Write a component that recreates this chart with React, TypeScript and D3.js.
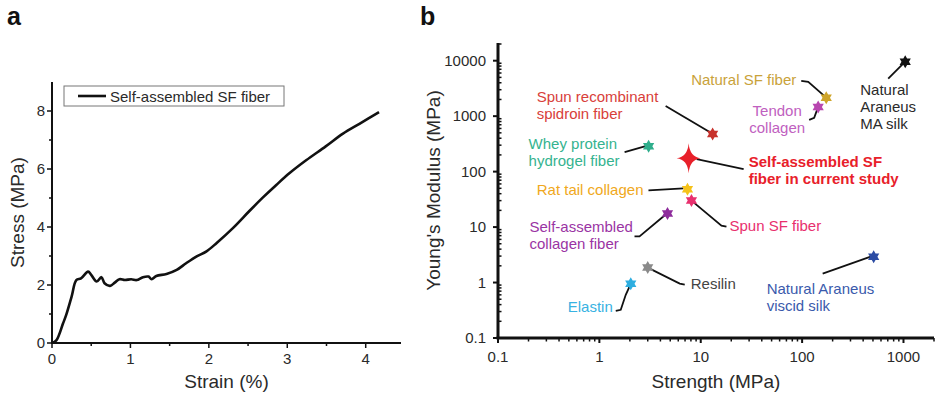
import React from 'react';
import * as d3 from 'd3';

// panel a: tensile curve
const strain = [0, 0.055, 0.14, 0.18, 0.25, 0.31, 0.37, 0.46, 0.5, 0.57, 0.63, 0.67, 0.74, 0.8, 0.86, 0.93, 1.01, 1.08, 1.16, 1.23, 1.27, 1.33, 1.46, 1.59, 1.71, 1.84, 1.97, 2.1, 2.31, 2.52, 2.69, 2.86, 3.03, 3.24, 3.49, 3.71, 3.92, 4.17];
const stress = [0, 0.09, 0.67, 0.96, 1.6, 2.17, 2.23, 2.46, 2.35, 2.12, 2.27, 2.06, 1.97, 2.08, 2.2, 2.17, 2.2, 2.17, 2.27, 2.29, 2.2, 2.31, 2.38, 2.52, 2.75, 2.98, 3.16, 3.45, 3.97, 4.56, 5.02, 5.45, 5.86, 6.3, 6.78, 7.22, 7.56, 7.96];
const strainTicks = [0, 1, 2, 3, 4];
const stressTicks = [0, 2, 4, 6, 8];

// panel b: Ashby-style comparison
const materials = ['Natural Araneus MA silk', 'Natural SF fiber', 'Tendon collagen', 'Spun recombinant spidroin fiber', 'Whey protein hydrogel fiber', 'Self-assembled SF fiber in current study', 'Rat tail collagen', 'Spun SF fiber', 'Self-assembled collagen fiber', 'Resilin', 'Elastin', 'Natural Araneus viscid silk'];
const strengthMPa = [1040, 173, 144, 13.1, 3.06, 7.6, 7.4, 8.1, 4.7, 3.0, 2.04, 508];
const modulusMPa = [9600, 2140, 1470, 476, 288, 175, 48, 30, 17.6, 1.86, 0.95, 2.93];
const labelLines = [
  ['Natural', 'Araneus', 'MA silk'],
  ['Natural SF fiber'],
  ['Tendon', 'collagen'],
  ['Spun recombinant', 'spidroin fiber'],
  ['Whey protein', 'hydrogel fiber'],
  ['Self-assembled SF', 'fiber in current study'],
  ['Rat tail collagen'],
  ['Spun SF fiber'],
  ['Self-assembled', 'collagen fiber'],
  ['Resilin'],
  ['Elastin'],
  ['Natural Araneus', 'viscid silk'],
];
const logTicks = [0.1, 1, 10, 100, 1000, 10000];

const starColors = ['#111111', '#cfa52a', '#b846b0', '#c8322c', '#2fae8c', '#e8202a', '#f5c21a', '#e8306e', '#8e2c9c', '#8a8a8a', '#2eaee0', '#2c4ca4'];
const textColors = ['#2a2a2a', '#c9a23a', '#c060c0', '#d8403a', '#35b38f', '#e8202a', '#f0a820', '#e8306e', '#9a34a4', '#444444', '#38b2e2', '#3a5aac'];

// label placement relative to the star, in px
const labelLayout = [
  { dx: -45, dy: 33, anchor: 'start', leader: [[-17, 17], [0, 0]] },
  { dx: -30, dy: -13, anchor: 'end', leader: [[-25, -17], [-18, -16], [-2, -2]] },
  { dx: -41, dy: 9, anchor: 'middle', leader: [[-9, 13], [-4, 11], [0, 0]] },
  { dx: -176, dy: -32, anchor: 'start', leader: [[-47, -28], [-3, -2]] },
  { dx: -120, dy: 3, anchor: 'start', leader: [[-24, 6], [-3, 0]] },
  { dx: 60, dy: 9, anchor: 'start', leader: [[8, 1], [55, 11]] },
  { dx: -44, dy: 6, anchor: 'end', leader: [[-39, 1], [-4, -1]] },
  { dx: 38, dy: 30, anchor: 'start', leader: [[0, 0], [30, 25], [35, 26]] },
  { dx: -138, dy: 19, anchor: 'start', leader: [[-33, 23], [-28, 23], [-3, 2]] },
  { dx: 43, dy: 21, anchor: 'start', leader: [[0, 0], [32, 16], [37, 17]] },
  { dx: -18, dy: 28, anchor: 'end', leader: [[-15, 27], [-10, 26], [-5, 11], [0, 0]] },
  { dx: -107, dy: 37, anchor: 'start', leader: [[-51, 17], [-3, 0]] },
];

const font = '"Liberation Sans", Arial, Helvetica, sans-serif';
const ink = '#2a2a2a';

const hexagram = (R: number) => {
  const r = R / Math.sqrt(3);
  const pts: string[] = [];
  for (let i = 0; i < 12; i++) {
    const a = -Math.PI / 2 + (i * Math.PI) / 6;
    const rad = i % 2 === 0 ? R : r;
    pts.push(`${(rad * Math.cos(a)).toFixed(2)},${(rad * Math.sin(a)).toFixed(2)}`);
  }
  return 'M' + pts.join('L') + 'Z';
};
const bigStar = 'M0,-15Q1.2,-1.2 12,0Q1.2,1.2 0,15Q-1.2,1.2 -12,0Q-1.2,-1.2 0,-15Z';

const PanelA = () => {
  const x = d3.scaleLinear().domain([0, 4.45]).range([52, 401]);
  const y = d3.scaleLinear().domain([0, 9]).range([343, 82]);
  const line = d3.line<number>().x((d, i) => x(strain[i])).y(d => y(d)).curve(d3.curveCatmullRom.alpha(0.5));
  const minorX = d3.range(0.5, 4.5, 1);
  const minorY = d3.range(1, 9, 2);
  return (
    <g fontFamily={font} fill={ink}>
      <text x={7} y={25} fontSize={25} fontWeight="bold" fill="#111">a</text>
      <path d={line(stress) || ''} fill="none" stroke="#111" strokeWidth={2.6} strokeLinejoin="round" />
      <line x1={x(0)} x2={x(4.45)} y1={y(0)} y2={y(0)} stroke="#111" strokeWidth={2} />
      <line x1={x(0)} x2={x(0)} y1={y(0) + 1} y2={y(9)} stroke="#111" strokeWidth={2} />
      {strainTicks.map(t => (
        <g key={'xt' + t}>
          <line x1={x(t)} x2={x(t)} y1={y(0)} y2={y(0) + 5} stroke="#111" strokeWidth={1.5} />
          <text x={x(t)} y={y(0) + 21} textAnchor="middle" fontSize={15}>{t}</text>
        </g>
      ))}
      {minorX.map(t => (
        <line key={'xm' + t} x1={x(t)} x2={x(t)} y1={y(0)} y2={y(0) + 3} stroke="#111" strokeWidth={1.5} />
      ))}
      {stressTicks.map(t => (
        <g key={'yt' + t}>
          <line x1={x(0) - 5} x2={x(0)} y1={y(t)} y2={y(t)} stroke="#111" strokeWidth={1.5} />
          <text x={x(0) - 7} y={y(t) + 5} textAnchor="end" fontSize={15}>{t}</text>
        </g>
      ))}
      {minorY.map(t => (
        <line key={'ym' + t} x1={x(0) - 3} x2={x(0)} y1={y(t)} y2={y(t)} stroke="#111" strokeWidth={1.5} />
      ))}
      <text x={(x(0) + x(4.45)) / 2} y={388} textAnchor="middle" fontSize={19}>Strain (%)</text>
      <text transform={`translate(24,${(y(0) + y(9)) / 2}) rotate(-90)`} textAnchor="middle" fontSize={19}>Stress (MPa)</text>
      <rect x={64} y={86} width={220} height={20} fill="#fff" stroke="#777" strokeWidth={1} />
      <line x1={78} x2={106} y1={96} y2={96} stroke="#111" strokeWidth={2.6} />
      <text x={110} y={101.5} fontSize={15}>Self-assembled SF fiber</text>
    </g>
  );
};

const PanelB = () => {
  const x = d3.scaleLog().domain([0.1, 2000]).range([498, 934]);
  const y = d3.scaleLog().domain([0.1, 20000]).range([338, 44]);
  const minorX: number[] = [];
  const minorY: number[] = [];
  logTicks.forEach(d => {
    for (let k = 2; k <= 9; k++) {
      if (d * k <= 2000) minorX.push(d * k);
      if (d * k <= 20000) minorY.push(d * k);
    }
  });
  const x0 = x(0.1), y0 = y(0.1);
  return (
    <g fontFamily={font} fill={ink}>
      <text x={420} y={25} fontSize={25} fontWeight="bold" fill="#111">b</text>
      <line x1={x0 - 1.5} x2={x(2000)} y1={y0} y2={y0} stroke="#111" strokeWidth={3} />
      <line x1={x0} x2={x0} y1={y0} y2={43} stroke="#111" strokeWidth={3} />
      {logTicks.filter(t => t <= 1000).map(t => (
        <g key={'xt' + t}>
          <line x1={x(t)} x2={x(t)} y1={y0} y2={y0 + 5} stroke="#111" strokeWidth={2} />
          <text x={x(t)} y={y0 + 24} textAnchor="middle" fontSize={15}>{String(t)}</text>
        </g>
      ))}
      {minorX.map(t => (
        <line key={'xm' + t} x1={x(t)} x2={x(t)} y1={y0} y2={y0 + 3.5} stroke="#111" strokeWidth={1.5} />
      ))}
      {logTicks.map(t => (
        <g key={'yt' + t}>
          <line x1={x0 - 5} x2={x0} y1={y(t)} y2={y(t)} stroke="#111" strokeWidth={2} />
          <text x={x0 - 12} y={y(t) + 5} textAnchor="end" fontSize={15}>{String(t)}</text>
        </g>
      ))}
      {minorY.map(t => (
        <line key={'ym' + t} x1={x0} x2={x0 + 3.5} y1={y(t)} y2={y(t)} stroke="#111" strokeWidth={1.5} />
      ))}
      <text x={716} y={388} textAnchor="middle" fontSize={19}>Strength (MPa)</text>
      <text transform={`translate(440,${(y0 + 43) / 2}) rotate(-90)`} textAnchor="middle" fontSize={19}>Young's Modulus (MPa)</text>
      {materials.map((m, i) => {
        const px = x(strengthMPa[i]);
        const py = y(modulusMPa[i]);
        const lay = labelLayout[i];
        const bold = i === 5;
        return (
          <g key={m}>
            <path d={'M' + lay.leader.map(p => `${px + p[0]},${py + p[1]}`).join('L')} fill="none" stroke="#111" strokeWidth={1.8} />
            <path d={bold ? bigStar : hexagram(6.5)} transform={`translate(${px},${py})`} fill={starColors[i]} />
            <text x={px + lay.dx} y={py + lay.dy} textAnchor={lay.anchor} fontSize={15} fontWeight={bold ? 'bold' : 'normal'} fill={textColors[i]}>
              {labelLines[i].map((s, j) => (
                <tspan key={j} x={px + lay.dx} dy={j === 0 ? 0 : 17}>{s}</tspan>
              ))}
            </text>
          </g>
        );
      })}
    </g>
  );
};

export default function App() {
  return (
    <div style={{ position: 'absolute', left: 0, top: 0 }}>
      <svg width={941} height={398} style={{ display: 'block', background: '#fff' }}>
        <PanelA />
        <PanelB />
      </svg>
    </div>
  );
}
